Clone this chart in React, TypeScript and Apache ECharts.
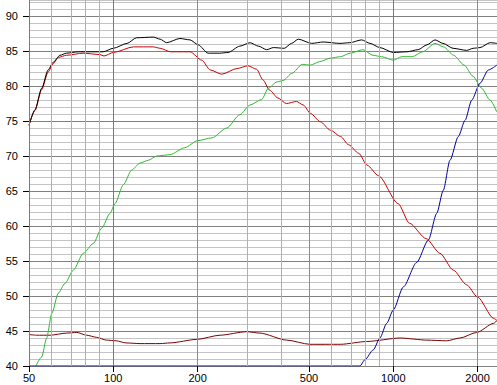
import React, { useEffect, useRef } from "react";
import * as echarts from "echarts";

const xTickFreqs = [50, 100, 200, 500, 1000, 2000];
const gridFreqs = [50, 60, 70, 80, 90, 100, 200, 300, 400, 500, 600, 700, 800, 900, 1000, 2000];
const yTickValues = [40, 45, 50, 55, 60, 65, 70, 75, 80, 85, 90];

const sumFreq = [50, 52.5, 55.5, 58.5, 61, 64.5, 68, 75, 92, 100, 112, 121, 139, 147, 155, 173, 188, 201, 218, 240, 257, 283, 308, 330, 353, 373, 408, 433, 458, 511, 562, 645, 700, 771, 826, 896, 1000, 1118, 1226, 1320, 1409, 1505, 1634, 1828, 1929, 2040, 2215, 2346];
const sumDb = [74.4, 76.6, 79.7, 82.3, 83.4, 84.4, 84.7, 84.9, 84.9, 85.4, 86.1, 86.9, 87.0, 86.7, 86.2, 86.8, 86.6, 85.9, 84.7, 84.7, 84.8, 85.7, 86.2, 85.7, 85.2, 85.5, 85.4, 86.1, 86.7, 86.1, 86.3, 86.1, 86.2, 86.6, 86.1, 85.5, 84.8, 84.9, 85.2, 85.9, 86.6, 86.1, 85.4, 85.1, 85.4, 85.5, 86.2, 86.1];

const wooferFreq = [50, 52.5, 55.5, 58.5, 61, 63.6, 68, 78, 89.6, 92.6, 100, 118, 139, 147, 160, 168.5, 188, 207, 222, 244, 276, 303, 325, 342, 362, 387, 415, 451, 477, 506, 549, 596, 648, 693, 752, 806, 885, 1041, 1142, 1310, 1468, 1638, 1828, 1995, 2283, 2346];
const wooferDb = [74.4, 76.5, 79.5, 82.0, 83.2, 84.1, 84.4, 84.7, 84.5, 84.3, 84.8, 85.6, 85.6, 85.4, 84.9, 84.9, 84.9, 83.7, 82.3, 81.7, 82.5, 82.9, 82.4, 80.9, 79.4, 78.3, 77.5, 77.8, 77.3, 76.1, 74.9, 73.7, 72.8, 71.6, 70.4, 68.7, 67.2, 63.2, 60.4, 58.2, 56.1, 53.7, 51.6, 49.9, 46.8, 46.5];

const midFreq = [52.9, 55.5, 57.8, 60.3, 63.6, 67.2, 72.0, 78.1, 84.8, 90.9, 97.3, 101.4, 108.6, 116.3, 124.6, 133.4, 142.9, 159.4, 180, 200, 225, 254, 283, 308, 339, 358, 384, 404, 434, 473, 506, 547, 596, 648, 701, 779, 846, 908, 1000, 1071, 1168, 1274, 1409, 1512, 1643, 1790, 1926, 2067, 2215, 2343];
const midDb = [40.0, 41.3, 44.0, 47.5, 50.4, 51.8, 53.7, 56.1, 57.5, 59.7, 61.8, 63.2, 65.9, 68.0, 69.0, 69.4, 70.0, 70.2, 71.2, 72.2, 72.6, 74.0, 75.9, 77.3, 78.1, 79.7, 80.6, 80.8, 81.8, 83.1, 83.0, 83.5, 84.0, 84.2, 84.7, 85.2, 84.4, 84.2, 83.7, 84.2, 84.2, 84.9, 86.1, 85.6, 84.4, 83.0, 81.4, 79.7, 78.0, 76.3];

const tweeterFreq = [50, 760, 792, 848, 896, 947, 1000, 1086, 1212, 1334, 1429, 1508, 1594, 1707, 1804, 1906, 2040, 2185, 2343];
const tweeterDb = [40, 40, 40.9, 42.3, 44.0, 46.1, 48.0, 51.3, 54.8, 58.0, 61.8, 65.1, 69.4, 72.8, 75.1, 78.0, 80.4, 82.3, 83.0];

const lowFreq = [50, 53.2, 59.4, 68.2, 74.1, 80.3, 87.1, 94.5, 102.4, 111.1, 124.6, 146.9, 159.4, 198.6, 240.5, 299.6, 334, 416, 504, 648, 803, 1057, 1319, 1551, 1731, 1986, 2283, 2346];
const lowDb = [44.5, 44.4, 44.4, 44.7, 44.8, 44.4, 44.1, 43.7, 43.6, 43.3, 43.2, 43.2, 43.3, 43.8, 44.4, 44.9, 44.7, 43.7, 43.1, 43.1, 43.5, 44.0, 43.7, 43.6, 44.0, 44.8, 46.1, 46.5];

const X_MIN_FREQ = 50;
const X_MAX_FREQ = 2346;
const Y_MIN = 40;
const Y_MAX = 92.3;

const lg = (f: number) => Math.log10(f);
const pts = (fs: number[], ds: number[]) => fs.map((f, i) => [lg(f), ds[i]]);

const FONT = "'Liberation Sans', Arial, sans-serif";

export default function App() {
  const ref = useRef<HTMLDivElement>(null);
  useEffect(() => {
    document.body.style.margin = "0";
    if (!ref.current) return;
    const chart = echarts.init(ref.current, undefined, { renderer: "svg" });
    const decade = (f: number) => f === 100 || f === 1000 || f === 50;
    const labelLine = (f: number) => f === 200 || f === 500 || f === 2000;
    const lineSeries = (name: string, fs: number[], ds: number[], color: string, z: number) => ({
      name,
      type: "line",
      data: pts(fs, ds),
      showSymbol: false,
      symbol: "none",
      smooth: 0.25,
      smoothMonotone: "x",
      z,
      lineStyle: { color, width: 1 },
      silent: true,
    });
    chart.setOption({
      animation: false,
      backgroundColor: "#ffffff",
      grid: { left: 29, right: 0, top: 0, bottom: 19, containLabel: false },
      xAxis: {
        type: "value",
        min: lg(X_MIN_FREQ),
        max: lg(X_MAX_FREQ),
        axisLine: { show: false },
        splitLine: { show: false },
        axisTick: {
          show: true,
          customValues: xTickFreqs.map(lg),
          length: 6,
          lineStyle: { color: "#000" },
        },
        axisLabel: {
          customValues: xTickFreqs.map(lg),
          formatter: (v: number) => String(Math.round(Math.pow(10, v))),
          color: "#000",
          fontFamily: FONT,
          fontSize: 11,
          margin: 6,
        },
      },
      yAxis: [
        {
          type: "value",
          min: Y_MIN,
          max: Y_MAX,
          interval: 1,
          axisLine: { show: false },
          axisTick: { show: false },
          axisLabel: { show: false },
          splitLine: {
            show: true,
            lineStyle: { color: ["#808080", "#c4c4c4", "#c4c4c4", "#c4c4c4", "#c4c4c4"], width: 1 },
          },
        },
        {
          type: "value",
          position: "left",
          min: Y_MIN,
          max: Y_MAX,
          axisLine: { show: false },
          splitLine: { show: false },
          axisTick: {
            show: true,
            customValues: yTickValues,
            length: 6,
            lineStyle: { color: "#000" },
          },
          axisLabel: {
            customValues: yTickValues,
            color: "#000",
            fontFamily: FONT,
            fontSize: 11,
            margin: 11,
          },
        },
      ],
      series: [
        {
          type: "line",
          data: [],
          z: 1,
          silent: true,
          markLine: {
            silent: true,
            symbol: ["none", "none"],
            label: { show: false },
            animation: false,
            data: gridFreqs.map((f) => ({
              xAxis: lg(f),
              lineStyle: {
                color: decade(f) ? "#7a7a7a" : labelLine(f) ? "#8c8c8c" : "#b0b0b0",
                width: 1,
                type: "solid",
              },
            })),
          },
        },
        lineSeries("low", lowFreq, lowDb, "#7a0000", 3),
        lineSeries("woofer", wooferFreq, wooferDb, "#cc0000", 3),
        lineSeries("mid", midFreq, midDb, "#30b830", 3),
        lineSeries("tweeter", tweeterFreq, tweeterDb, "#000099", 3),
        lineSeries("sum", sumFreq, sumDb, "#000000", 4),
      ],
    });
    return () => chart.dispose();
  }, []);
  return (
    <div
      ref={ref}
      style={{ position: "fixed", left: 0, top: 0, width: 497, height: 385 }}
    />
  );
}
